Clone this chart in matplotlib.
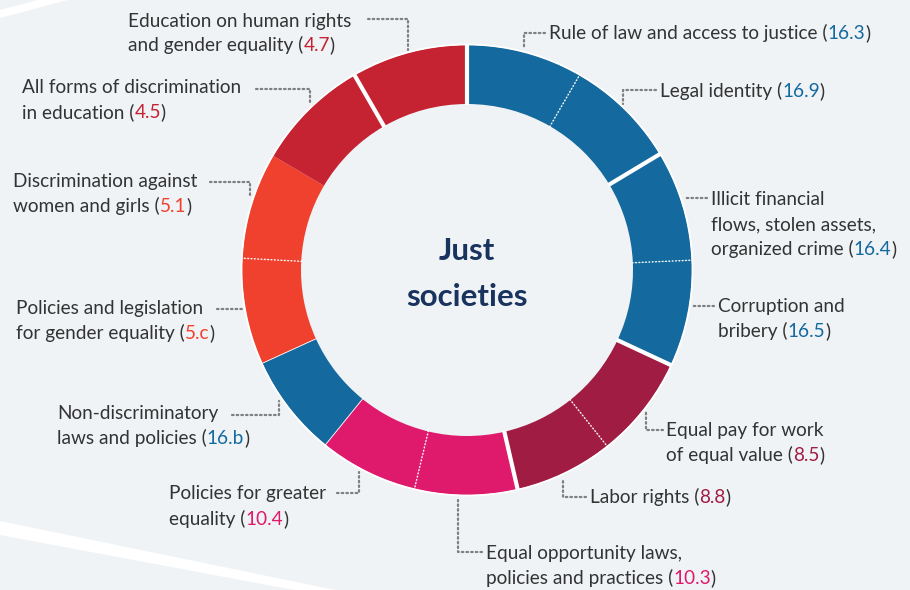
import numpy as np
import matplotlib
matplotlib.use("Agg")
import matplotlib.pyplot as plt
from matplotlib.patches import Circle, Polygon

# ---------------- data ----------------
labels = [
    ["Rule of law and access to justice ("],
    ["Legal identity ("],
    ["Illicit financial", "flows, stolen assets,", "organized crime ("],
    ["Corruption and", "bribery ("],
    ["Equal pay for work", "of equal value ("],
    ["Labor rights ("],
    ["Equal opportunity laws,", "policies and practices ("],
    ["Policies for greater", "equality ("],
    ["Non-discriminatory", "laws and policies ("],
    ["Policies and legislation", "for gender equality ("],
    ["Discrimination against", "women and girls ("],
    ["All forms of discrimination", "in education ("],
    ["Education on human rights", "and gender equality ("],
]
codes = ["16.3", "16.9", "16.4", "16.5", "8.5", "8.8", "10.3", "10.4",
         "16.b", "5.c", "5.1", "4.5", "4.7"]
spans = [30, 29, 28.5, 27.5, 26.5, 25.5, 26.5, 25.5, 26.5, 27.5, 27.5, 29.5, 30]

BLUE, MAROON, MAGENTA, ORANGE, CRIMSON = "#14699e", "#a11c43", "#df196b", "#ef412e", "#c52232"
colors = [BLUE, BLUE, BLUE, BLUE, MAROON, MAROON, MAGENTA, MAGENTA, BLUE,
          ORANGE, ORANGE, CRIMSON, CRIMSON]
# separator style at start of each segment (clockwise from top)
seps = ["gap", "dot", "gap", "dot", "gap", "dot", "gap", "dot", "thin", "thin",
        "dot", "none", "gap"]

W, H = 910, 590
BG = "#eff3f6"
TXT = "#333333"
LEAD = "#7f7f7f"

def Y(y):
    return H - y

fig = plt.figure(figsize=(W / 100, H / 100), dpi=100)
fig.patch.set_facecolor(BG)
ax = fig.add_axes([0, 0, 1, 1])
ax.set_xlim(0, W)
ax.set_ylim(0, H)
ax.set_facecolor(BG)

# background stripes
ax.add_patch(Polygon([(0, Y(521)), (0, Y(535)), (305, Y(592)), (345, Y(592))],
                     closed=True, fc="white", ec="none", zorder=0))
ax.add_patch(Polygon([(0, Y(10)), (0, Y(18)), (75, Y(-2)), (45, Y(-2))],
                     closed=True, fc="white", ec="none", zorder=0))

cx, cy = 467, Y(270)
R, r = 225, 166

wedges, _ = ax.pie(spans, colors=colors, startangle=90, counterclock=False,
                   center=(cx, cy), radius=R, frame=True,
                   wedgeprops=dict(width=R - r, edgecolor="none", linewidth=0))
ax.set_xlim(0, W)
ax.set_ylim(0, H)
ax.set_aspect("equal")
ax.axis("off")

# outer white rim
ax.add_patch(Circle((cx, cy), R + 0.5, fc="none", ec="white", lw=1.3, zorder=3))

# separators
cum = np.concatenate([[0], np.cumsum(spans)[:-1]])
for a, s in zip(cum, seps):
    th = np.deg2rad(90 - a)
    xs = [cx + (r - 1) * np.cos(th), cx + (R + 1) * np.cos(th)]
    ys = [cy + (r - 1) * np.sin(th), cy + (R + 1) * np.sin(th)]
    if s == "gap":
        ax.plot(xs, ys, color="white", lw=3.0, solid_capstyle="butt", zorder=4)
    elif s == "dot":
        ax.plot(xs, ys, color="white", lw=1.0, ls=(0, (1.2, 1.2)), zorder=4)
    elif s == "thin":
        ax.plot(xs, ys, color="white", lw=0.6, zorder=4)

# centre title
ax.text(cx, Y(251), "Just", ha="center", va="center", fontsize=22.5, fontweight="bold",
        color="#18335e", family="Lato")
ax.text(cx, Y(297), "societies", ha="center", va="center", fontsize=22.5, fontweight="bold",
        color="#18335e", family="Lato")

# label positions (left x, first-line centre y, line spacing) and leader polylines
label_pos = [
    (549, 33, 25), (660, 91, 25), (711, 199, 25), (718, 306, 25),
    (666, 430, 25), (590, 497, 25), (486, 553, 25), (169, 493, 26),
    (57, 413, 25), (16, 308, 25), (13, 181, 25), (22, 87, 25), (128, 21, 24),
]
leaders = [
    [(545, 33), (524, 33), (524, 49)],
    [(656, 90), (623, 90), (623, 104)],
    [(707, 198), (684, 198)],
    [(714, 306), (693, 306)],
    [(663, 430), (646, 430), (646, 412)],
    [(586, 497), (563, 497), (563, 478)],
    [(482, 552), (458, 552), (458, 500)],
    [(337, 493), (359, 493), (359, 472)],
    [(232, 415), (279, 415), (279, 401)],
    [(217, 309), (243, 309)],
    [(210, 182), (250, 182), (250, 197)],
    [(256, 89), (310, 89), (310, 105)],
    [(368, 19), (408, 19), (408, 50)],
]
for pts in leaders:
    ax.plot([p[0] for p in pts], [Y(p[1]) for p in pts], color=LEAD, lw=1.6,
            ls=(0, (0.7, 1.4)), zorder=2, dash_capstyle="round")

FS = 13.7
fig.canvas.draw()
renderer = fig.canvas.get_renderer()
inv = ax.transData.inverted()
for lines, code, col, (lx, ly, dy) in zip(labels, codes, colors, label_pos):
    for i, line in enumerate(lines):
        yb = Y(ly + i * dy) - 6
        t = ax.text(lx, yb, line, ha="left", va="baseline", fontsize=FS,
                    color=TXT, family="Lato")
        if i == len(lines) - 1:
            bb = t.get_window_extent(renderer)
            x1 = inv.transform((bb.x1, bb.y0))[0]
            t2 = ax.text(x1, yb, code, ha="left", va="baseline", fontsize=FS,
                         color=col, family="Lato")
            bb2 = t2.get_window_extent(renderer)
            x2 = inv.transform((bb2.x1, bb2.y0))[0]
            ax.text(x2, yb, ")", ha="left", va="baseline", fontsize=FS,
                    color=TXT, family="Lato")

fig.savefig("out.png", dpi=100, facecolor=BG)
